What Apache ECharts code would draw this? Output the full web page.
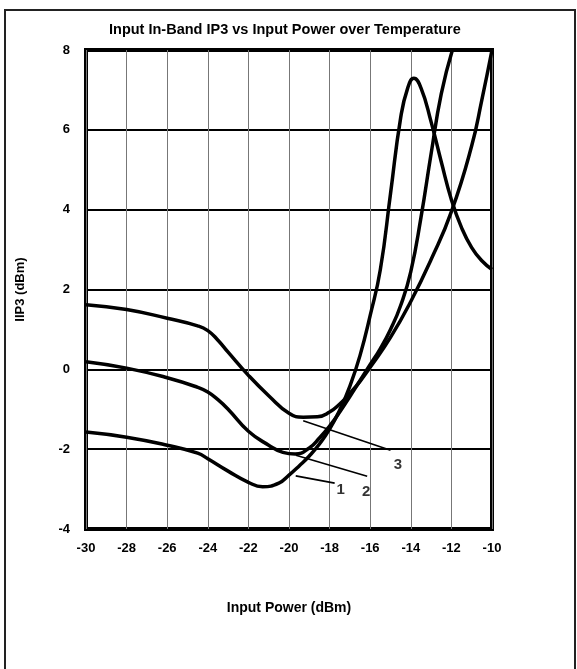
<!DOCTYPE html>
<html>
<head>
<meta charset="utf-8">
<script src="https://cdn.jsdelivr.net/npm/echarts@6/dist/echarts.min.js"></script>
<style>
  html, body { margin: 0; padding: 0; background: #fff; }
  #chart { width: 577px; height: 669px; }
</style>
</head>
<body>
<div id="chart"></div>
<script>
// Input power sweep (dBm) and measured input IP3 (dBm) for each temperature trace
const powerIn1 = [-30, -28, -26, -24.5, -24, -23, -22, -21.3, -20.5, -20, -19.5, -19, -18.5, -18, -17.5, -17, -16.5, -16, -15.5, -15, -14.5, -14.15, -13.85, -13.5, -13, -12.5, -12, -11.5, -11, -10.5, -10];
const iip3Curve1 = [-1.57, -1.70, -1.90, -2.10, -2.24, -2.55, -2.83, -2.94, -2.85, -2.65, -2.42, -2.17, -1.87, -1.50, -1.02, -0.42, 0.35, 1.35, 2.5, 4.4, 6.3, 7.05, 7.29, 7.05, 6.2, 5.2, 4.25, 3.55, 3.05, 2.72, 2.5];

const powerIn2 = [-30, -28, -26, -24.5, -24, -23.5, -23, -22, -21, -20.3, -19.7, -19, -18.5, -18, -17.5, -17, -16.5, -16, -15.5, -15, -14.5, -14, -13.5, -13, -12.5, -11.95];
const iip3Curve2 = [0.19, 0.03, -0.21, -0.45, -0.57, -0.76, -1.0, -1.55, -1.9, -2.08, -2.12, -1.97, -1.72, -1.42, -1.07, -0.68, -0.28, 0.12, 0.52, 1.0, 1.6, 2.45, 3.8, 5.4, 6.9, 8.0];

const powerIn3 = [-30, -28, -26, -24.5, -24, -23.5, -23, -22, -21, -20, -19.3, -18.6, -18, -17.5, -17, -16.5, -16, -15, -14, -13, -12, -11, -10.5, -10];
const iip3Curve3 = [1.62, 1.50, 1.28, 1.09, 0.97, 0.73, 0.43, -0.15, -0.66, -1.10, -1.20, -1.19, -1.07, -0.87, -0.60, -0.30, 0.05, 0.8, 1.7, 2.75, 3.95, 5.6, 6.75, 8.0];

// Callout leaders: start on the trace, end next to the trace number
const traceNames = ['1', '2', '3'];
const leaderStart = [[-19.67, -2.67], [-19.66, -2.15], [-19.3, -1.29]];
const leaderEnd = [[-17.75, -2.85], [-16.15, -2.68], [-15.0, -2.03]];
const tagPos = [[-17.46, -3.02], [-16.2, -3.06], [-14.63, -2.39]];

// Axis ranges and ticks
const xMin = -30, xMax = -10, xStep = 2;
const yMin = -4, yMax = 8, yStep = 2;

const zip = (xs, ys) => xs.map((x, i) => [x, ys[i]]);

const FONT = '"Liberation Sans", Arial, sans-serif';

const series = [
  [powerIn1, iip3Curve1],
  [powerIn2, iip3Curve2],
  [powerIn3, iip3Curve3]
].map(([xs, ys], i) => ({
  name: 'Trace ' + traceNames[i],
  type: 'line',
  data: zip(xs, ys),
  smooth: 0.5,
  showSymbol: false,
  symbol: 'none',
  silent: true,
  clip: true,
  lineStyle: { color: '#000', width: 3.5 },
  z: 5
}));

traceNames.forEach((t, i) => {
  series.push({
    type: 'line',
    data: [leaderStart[i], leaderEnd[i]],
    showSymbol: false,
    symbol: 'none',
    silent: true,
    lineStyle: { color: '#000', width: 1.6 },
    z: 4
  });
});

series.push({
  type: 'scatter',
  data: tagPos.map((p, i) => ({ value: p, name: traceNames[i] })),
  symbolSize: 0,
  silent: true,
  label: {
    show: true,
    position: 'inside',
    formatter: (p) => p.name,
    color: '#000',
    fontFamily: FONT,
    fontWeight: 'bold',
    fontSize: 15
  },
  z: 6
});

const chart = echarts.init(document.getElementById('chart'), null, { renderer: 'canvas' });

chart.setOption({
  backgroundColor: '#fff',
  animation: false,
  title: {
    text: 'Input In-Band IP3 vs Input Power over Temperature',
    left: 104,
    top: 17,
    textStyle: { fontFamily: FONT, fontWeight: 'bold', fontSize: 14.5, color: '#000' }
  },
  graphic: [{
    type: 'rect',
    shape: { x: 5, y: 10, width: 570, height: 700 },
    style: { fill: null, stroke: '#222', lineWidth: 2 },
    silent: true,
    z: 0
  }],
  grid: {
    left: 86, right: 85, top: 50, bottom: 140,
    show: true,
    borderColor: '#000',
    borderWidth: 4,
    backgroundColor: 'transparent'
  },
  xAxis: {
    type: 'value',
    min: xMin, max: xMax, interval: xStep,
    name: 'Input Power (dBm)',
    nameLocation: 'middle',
    nameGap: 72,
    nameTextStyle: { fontFamily: FONT, fontWeight: 'bold', fontSize: 14, color: '#000' },
    axisLine: { show: false },
    axisTick: { show: false },
    axisLabel: { margin: 13, fontFamily: FONT, fontWeight: 'bold', fontSize: 13, color: '#000' },
    splitLine: { show: true, lineStyle: { color: '#777', width: 1 } }
  },
  yAxis: {
    type: 'value',
    min: yMin, max: yMax, interval: yStep,
    name: 'IIP3 (dBm)',
    nameLocation: 'middle',
    nameRotate: 90,
    nameGap: 59,
    nameTextStyle: { fontFamily: FONT, fontWeight: 'bold', fontSize: 13, color: '#000' },
    axisLine: { show: false },
    axisTick: { show: false },
    axisLabel: { margin: 16, fontFamily: FONT, fontWeight: 'bold', fontSize: 13, color: '#000' },
    splitLine: { show: true, lineStyle: { color: '#000', width: 2 } }
  },
  series: series
});
</script>
</body>
</html>
